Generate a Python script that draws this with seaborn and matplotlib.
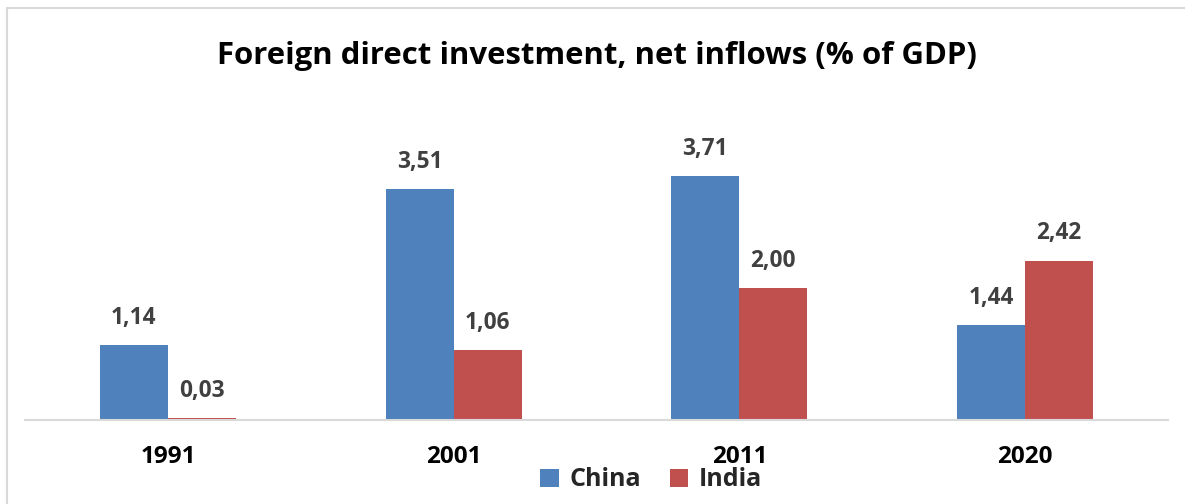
import matplotlib
matplotlib.use("Agg")
import matplotlib.pyplot as plt
from matplotlib.patches import Rectangle, Patch
import pandas as pd
import seaborn as sns

years = ["1991", "2001", "2011", "2020"]
china = [1.14, 3.51, 3.71, 1.44]
india = [0.03, 1.06, 2.00, 2.42]
countries = ["China", "India"]
colors = ["#4F81BD", "#C0504D"]

df = pd.DataFrame({
    "Year": years * 2,
    "Country": [countries[0]] * len(years) + [countries[1]] * len(years),
    "Value": china + india,
})

sns.set_theme(style="white")
plt.rcParams["font.family"] = ["Open Sans", "DejaVu Sans"]

fig = plt.figure(figsize=(11.85, 5.04), dpi=100)
ax = fig.add_axes([25 / 1185, 84 / 504, 1143 / 1185, 320 / 504])

sns.barplot(data=df, x="Year", y="Value", hue="Country", order=years,
            hue_order=countries, palette=colors, width=0.476, gap=0,
            saturation=1, edgecolor="none", linewidth=0, ax=ax,
            legend=False)

for cont in ax.containers:
    ax.bar_label(cont, labels=[f"{v:.2f}".replace(".", ",") for v in cont.datavalues],
                 padding=11, fontsize=16.3, fontweight="bold", color="#404040")

ax.set_xlim(-0.5, 3.5)
ax.set_ylim(0, 4.863)
ax.set_xlabel("")
ax.set_ylabel("")
ax.set_yticks([])
for s in ["top", "right", "left"]:
    ax.spines[s].set_visible(False)
ax.spines["bottom"].set_color("#D9D9D9")
ax.spines["bottom"].set_linewidth(1.5)
ax.tick_params(axis="x", length=0, pad=18, labelsize=17.5)
for lbl in ax.get_xticklabels():
    lbl.set_fontweight("bold")
    lbl.set_color("black")

fig.text(597 / 1185, 1 - 56 / 504, "Foreign direct investment, net inflows (% of GDP)",
         ha="center", va="center", fontsize=22.4, fontweight="bold", color="black")

handles = [Patch(facecolor=c, edgecolor="none") for c in colors]
leg = fig.legend(handles, countries, loc="center", bbox_to_anchor=(651 / 1185, 1 - 480 / 504),
                 ncol=2, frameon=False, handlelength=0.75, handleheight=0.75,
                 handletextpad=0.4, columnspacing=1.15,
                 prop={"size": 18, "weight": "bold"})

fig.patches.append(Rectangle((7 / 1185, -0.1), 1.2, 1 - 8 / 504 + 0.1,
                             transform=fig.transFigure, fill=False,
                             edgecolor="#D9D9D9", linewidth=1.5))

fig.savefig("out.png", dpi=100, facecolor="white")
